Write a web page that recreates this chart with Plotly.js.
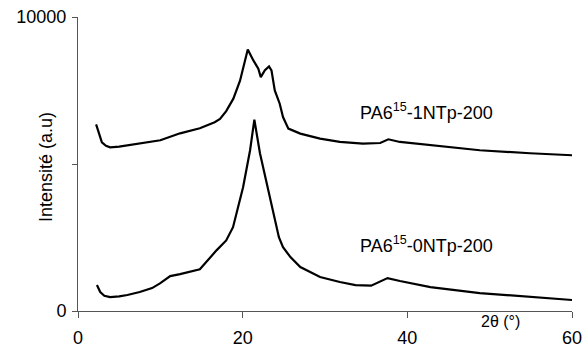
<!DOCTYPE html>
<html>
<head>
<meta charset="utf-8">
<script src="https://cdn.plot.ly/plotly-3.0.1.min.js"></script>
<style>html,body{margin:0;padding:0;background:#fff;}#chart{width:583px;height:351px;}</style>
</head>
<body>
<div id="chart"></div>
<script>
// 2θ positions and intensities, sample PA6^15-1NTp-200 (upper curve)
const theta1 = [2.2, 2.6, 2.9, 3.4, 3.9, 5.0, 6.0, 7.5, 10.0, 12.4, 14.8, 16.6, 17.25, 18.0, 18.87, 19.68, 20.29, 20.62, 21.3, 21.9, 22.2, 22.7, 23.2, 23.5, 23.9, 24.5, 24.9, 25.55, 27.0, 29.4, 31.8, 34.6, 36.7, 37.7, 39.1, 42.8, 48.8, 54.9, 60.0];
const int1   = [6350, 6000, 5739, 5620, 5569, 5590, 5630, 5705, 5806, 6044, 6214, 6420, 6530, 6800, 7222, 7835, 8523, 8896, 8523, 8241, 7956, 8194, 8319, 8183, 7504, 7050, 6598, 6204, 6034, 5864, 5750, 5694, 5715, 5840, 5750, 5637, 5467, 5365, 5297];
// sample PA6^15-0NTp-200 (lower curve)
const theta0 = [2.3, 2.7, 3.2, 3.9, 5.0, 6.0, 7.5, 9.0, 10.0, 11.2, 12.4, 14.8, 16.85, 18.0, 18.83, 19.4, 20.05, 20.9, 21.42, 22.1, 23.3, 24.4, 24.9, 25.8, 27.0, 29.4, 31.8, 33.7, 35.6, 37.6, 39.1, 42.8, 48.8, 54.9, 60.0];
const int0   = [883, 645, 520, 475, 500, 543, 645, 780, 950, 1188, 1256, 1420, 2071, 2400, 2852, 3450, 4211, 5467, 6509, 5365, 3871, 2513, 2173, 1834, 1494, 1155, 985, 883, 860, 1120, 1019, 815, 611, 475, 374];
const xTicks = [0, 20, 40, 60];
const yTicks = [0, 5000, 10000];
const yTickText = ['0', '', '10000'];
const labels = ['PA6<sup>15</sup>-1NTp-200', 'PA6<sup>15</sup>-0NTp-200'];
const labelPos = [[34.0, 6774], [34.0, 2258]];

const line = {color: '#000', width: 2.2};
const traces = [
  {x: theta1, y: int1, type: 'scatter', mode: 'lines', line: line, hoverinfo: 'skip'},
  {x: theta0, y: int0, type: 'scatter', mode: 'lines', line: line, hoverinfo: 'skip'}
];
const font = {family: 'Liberation Sans, Arial, sans-serif', color: '#000'};
const f = s => Object.assign({size: s}, font);
const layout = {
  width: 583, height: 351,
  margin: {l: 78, r: 11, t: 17, b: 40},
  showlegend: false,
  paper_bgcolor: '#fff', plot_bgcolor: '#fff',
  font: f(16),
  xaxis: {
    range: [0, 60], tickvals: xTicks, ticktext: xTicks.map(String),
    showgrid: false, zeroline: false, showline: true, linecolor: '#555', linewidth: 1,
    ticks: 'outside', ticklen: 6, tickcolor: '#555',
    tickfont: f(18), ticklabelstandoff: 4
  },
  yaxis: {
    range: [0, 10000], tickvals: yTicks, ticktext: yTickText,
    showgrid: false, zeroline: false, showline: true, linecolor: '#555', linewidth: 1,
    ticks: 'outside', ticklen: 5, tickcolor: '#555',
    tickfont: f(18), ticklabelstandoff: 2
  },
  annotations: [
    {x: labelPos[0][0], y: labelPos[0][1], text: labels[0], showarrow: false, xanchor: 'left', yanchor: 'middle', font: f(18)},
    {x: labelPos[1][0], y: labelPos[1][1], text: labels[1], showarrow: false, xanchor: 'left', yanchor: 'middle', font: f(18)},
    {x: 51.3, xref: 'x', y: -0.037, yref: 'paper', text: '2θ (°)', showarrow: false, xanchor: 'center', yanchor: 'middle', font: f(16)},
    {x: -0.065, xref: 'paper', y: 0.489, yref: 'paper', text: 'Intensité (a.u)', textangle: -90, showarrow: false, xanchor: 'center', yanchor: 'middle', font: f(18)}
  ]
};
Plotly.newPlot('chart', traces, layout, {staticPlot: true, displayModeBar: false});
</script>
</body>
</html>
